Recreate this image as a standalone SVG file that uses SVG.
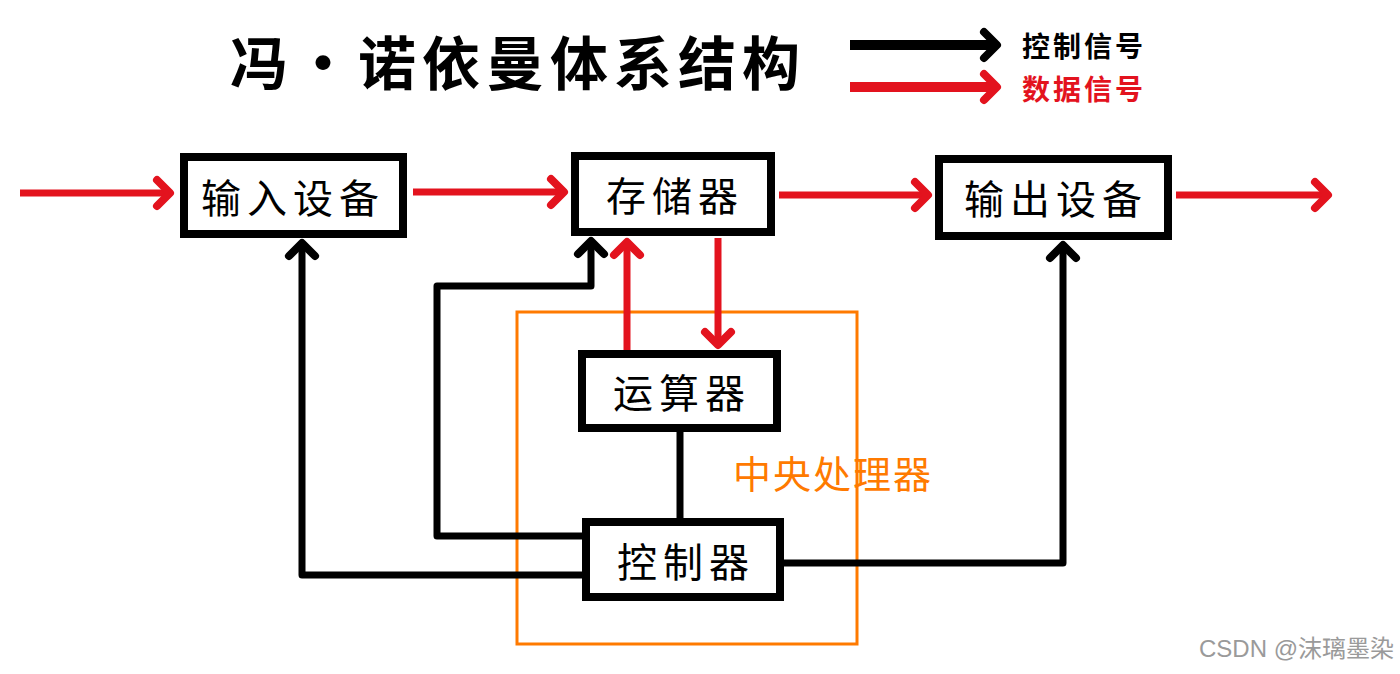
<svg xmlns="http://www.w3.org/2000/svg" width="1400" height="674" viewBox="0 0 1400 674">
<style>
.box{fill:#fff;stroke:#000;stroke-width:8}
.lbl{font-family:"Noto Sans CJK SC","Noto Sans",sans-serif;font-size:40px;fill:#000;text-anchor:middle;dominant-baseline:central}
.blk{fill:none;stroke:#000;stroke-width:7;stroke-linejoin:round}
.red{fill:none;stroke:#e3131e;stroke-width:7;stroke-linejoin:round}
.title{font-family:"Noto Sans CJK SC",sans-serif;font-size:58px;font-weight:bold;fill:#000;dominant-baseline:central}
.leg{font-family:"Noto Sans CJK SC",sans-serif;font-size:28px;font-weight:bold;dominant-baseline:central;letter-spacing:3px}
</style>
<defs>
<marker id="ab" markerUnits="userSpaceOnUse" viewBox="-20 -20 40 40" refX="0" refY="0" markerWidth="40" markerHeight="40" orient="auto" overflow="visible">
<path d="M-13 -13 L0 0 L-13 13" fill="none" stroke="#000" stroke-width="8" stroke-linecap="round" stroke-linejoin="round"/>
</marker>
<marker id="ar" markerUnits="userSpaceOnUse" viewBox="-20 -20 40 40" refX="0" refY="0" markerWidth="40" markerHeight="40" orient="auto" overflow="visible">
<path d="M-13 -13 L0 0 L-13 13" fill="none" stroke="#e3131e" stroke-width="8" stroke-linecap="round" stroke-linejoin="round"/>
</marker>
</defs>
<rect width="1400" height="674" fill="#fff"/>

<g id="title">
<text class="title" x="230" y="60" textLength="570" lengthAdjust="spacing">冯·诺依曼体系结构</text>
</g>

<g id="legend">
<path d="M850 45 L997 45" fill="none" stroke="#000" stroke-width="10" marker-end="url(#ab)"/>
<text class="leg" x="1022" y="45" fill="#000">控制信号</text>
<path d="M850 87 L997 87" fill="none" stroke="#e3131e" stroke-width="10" marker-end="url(#ar)"/>
<text class="leg" x="1022" y="88" fill="#e3131e">数据信号</text>
</g>

<g id="cpu">
<rect x="517" y="312" width="340" height="332" fill="none" stroke="#ff7a00" stroke-width="3"/>
<text x="833" y="471" font-family="Noto Sans CJK SC,sans-serif" font-size="38" fill="#ff7a00" text-anchor="middle" dominant-baseline="central" letter-spacing="2">中央处理器</text>
</g>

<g id="connectors">
<path class="red" d="M20 193 L170 193" marker-end="url(#ar)"/>
<path class="red" d="M413 192 L564 192" marker-end="url(#ar)"/>
<path class="red" d="M779 195 L928 195" marker-end="url(#ar)"/>
<path class="red" d="M1176 195 L1328 195" marker-end="url(#ar)"/>
<path class="red" d="M627 350 L627 242" marker-end="url(#ar)"/>
<path class="red" d="M718 238 L718 345" marker-end="url(#ar)"/>
<path class="blk" d="M582 575 L302 575 L302 243" marker-end="url(#ab)"/>
<path class="blk" d="M582 536 L437 536 L437 286 L591 286 L591 241" marker-end="url(#ab)"/>
<path class="blk" d="M784 563 L1063 563 L1063 245" marker-end="url(#ab)"/>
<path class="blk" d="M680 432 L680 518"/>
</g>

<g id="input">
<rect class="box" x="184" y="157" width="219" height="77"/>
<text class="lbl" x="293" y="196" letter-spacing="6">输入设备</text>
</g>
<g id="memory">
<rect class="box" x="575" y="156" width="196" height="76"/>
<text class="lbl" x="675" y="194" letter-spacing="6">存储器</text>
</g>
<g id="output">
<rect class="box" x="939" y="159" width="229" height="77"/>
<text class="lbl" x="1056" y="197" letter-spacing="6">输出设备</text>
</g>
<g id="alu">
<rect class="box" x="582" y="354" width="195" height="74"/>
<text class="lbl" x="682" y="391" letter-spacing="6">运算器</text>
</g>
<g id="control">
<rect class="box" x="586" y="522" width="194" height="75"/>
<text class="lbl" x="686" y="560" letter-spacing="6">控制器</text>
</g>

<text x="1394" y="648" font-family="Liberation Sans,Noto Sans CJK SC,sans-serif" font-size="24" fill="#9a9a9a" text-anchor="end" dominant-baseline="central">CSDN @沫璃墨染</text>
</svg>
